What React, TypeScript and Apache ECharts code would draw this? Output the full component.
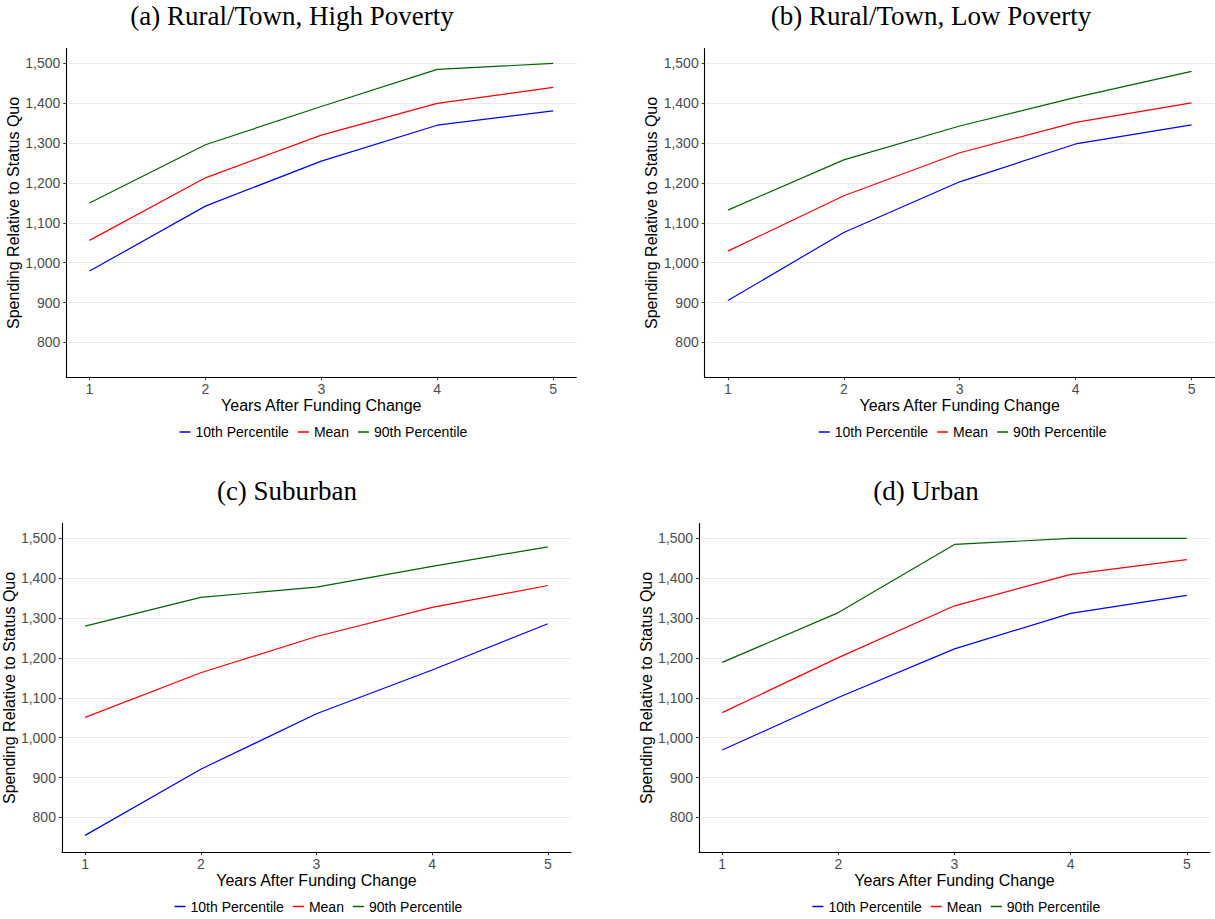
import React, { useEffect, useRef } from "react";
import * as echarts from "echarts";

const years = [1, 2, 3, 4, 5];
const yTicks = [800, 900, 1000, 1100, 1200, 1300, 1400, 1500];
const seriesNames = ["10th Percentile", "Mean", "90th Percentile"];
const seriesColors = ["#0000ff", "#ff0000", "#006400"];

const panelTitles = [
  "(a) Rural/Town, High Poverty",
  "(b) Rural/Town, Low Poverty",
  "(c) Suburban",
  "(d) Urban",
];

// Panel (a) Rural/Town, High Poverty
const aP10 = [979, 1142, 1255, 1345, 1381];
const aMean = [1056, 1213, 1320, 1400, 1440];
const aP90 = [1150, 1296, 1392, 1485, 1500];
// Panel (b) Rural/Town, Low Poverty
const bP10 = [905, 1076, 1203, 1298, 1346];
const bMean = [1029, 1168, 1276, 1352, 1401];
const bP90 = [1132, 1258, 1343, 1415, 1480];
// Panel (c) Suburban
const cP10 = [755, 921, 1060, 1170, 1286];
const cMean = [1051, 1163, 1254, 1327, 1382];
const cP90 = [1280, 1352, 1378, 1430, 1479];
// Panel (d) Urban
const dP10 = [969, 1101, 1223, 1312, 1357];
const dMean = [1063, 1201, 1331, 1410, 1447];
const dP90 = [1189, 1314, 1485, 1500, 1500];

const panelData = [
  [aP10, aMean, aP90],
  [bP10, bMean, bP90],
  [cP10, cMean, cP90],
  [dP10, dMean, dP90],
];

// layout (pixels)
const grids = [
  { left: 66.3, top: 48.5, width: 510, height: 328.8 },
  { left: 704.7, top: 48.5, width: 510, height: 328.8 },
  { left: 61, top: 523.5, width: 510, height: 328.8 },
  { left: 699, top: 523.5, width: 511, height: 328.8 },
];
const titlePos = [
  { x: 292, y: 16 },
  { x: 931, y: 16 },
  { x: 287, y: 491 },
  { x: 926, y: 491 },
];
const legendPos = [
  { left: 179.5, top: 425 },
  { left: 818.7, top: 425 },
  { left: 174.5, top: 899.5 },
  { left: 812.4, top: 899.5 },
];

const SANS = "'Liberation Sans', Arial, Helvetica, sans-serif";
const SERIF = "'Liberation Serif', 'Times New Roman', serif";

export default function App() {
  const ref = useRef<HTMLDivElement | null>(null);

  useEffect(() => {
    if (!ref.current) return;
    const chart = echarts.init(ref.current, undefined, { renderer: "svg" });

    const xAxes = grids.map((_, i) => ({
      type: "value",
      gridIndex: i,
      min: 0.8,
      max: 5.2,
      name: "Years After Funding Change",
      nameLocation: "middle",
      nameGap: 17,
      nameTextStyle: { fontSize: 16, color: "#000", fontFamily: SANS },
      axisLine: { show: true, lineStyle: { color: "#000", width: 1.1 } },
      axisTick: {
        show: true,
        length: 3,
        customValues: years,
        lineStyle: { color: "#333", width: 1 },
      },
      axisLabel: {
        customValues: years,
        color: "#4d4d4d",
        fontSize: 14,
        margin: 5,
        fontFamily: SANS,
      },
      splitLine: { show: false },
    }));

    const yAxes = grids.map((_, i) => ({
      type: "value",
      gridIndex: i,
      min: 712.5,
      max: 1537.5,
      name: "Spending Relative to Status Quo",
      nameLocation: "middle",
      nameGap: 40.5,
      nameTextStyle: { fontSize: 16, color: "#000", fontFamily: SANS },
      axisLine: { show: true, lineStyle: { color: "#000", width: 1.1 } },
      axisTick: {
        show: true,
        length: 3,
        customValues: yTicks,
        lineStyle: { color: "#333", width: 1 },
      },
      axisLabel: {
        customValues: yTicks,
        color: "#4d4d4d",
        fontSize: 14,
        margin: 6,
        fontFamily: SANS,
        formatter: (v: number) => v.toLocaleString("en-US"),
      },
      splitLine: { show: false },
    }));

    const series: any[] = [];
    grids.forEach((_, i) => {
      series.push({
        type: "line",
        name: "grid-" + i,
        xAxisIndex: i,
        yAxisIndex: i,
        data: [],
        z: 0,
        silent: true,
        markLine: {
          z: 0,
          silent: true,
          symbol: ["none", "none"],
          label: { show: false },
          lineStyle: { color: "#ebebeb", type: "solid", width: 1 },
          data: yTicks.map((v) => ({ yAxis: v })),
        },
      });
      panelData[i].forEach((vals, k) => {
        series.push({
          type: "line",
          name: seriesNames[k],
          xAxisIndex: i,
          yAxisIndex: i,
          data: years.map((x, j) => [x, vals[j]]),
          symbol: "none",
          showSymbol: false,
          z: 10,
          color: seriesColors[k],
          lineStyle: { color: seriesColors[k], width: 1.2 },
        });
      });
    });

    const legends = legendPos.map((p) => ({
      data: seriesNames,
      left: p.left,
      top: p.top,
      orient: "horizontal",
      padding: 0,
      icon: "rect",
      itemWidth: 11,
      itemHeight: 1.5,
      itemGap: 9,
      selectedMode: false,
      textStyle: { fontSize: 14, color: "#000", fontFamily: SANS },
    }));

    const graphics = panelTitles.map((t, i) => ({
      type: "text",
      x: titlePos[i].x,
      y: titlePos[i].y,
      silent: true,
      style: {
        text: t,
        fontSize: 27,
        fontFamily: SERIF,
        fill: "#000",
        align: "center",
        verticalAlign: "middle",
      },
    }));

    chart.setOption({
      animation: false,
      backgroundColor: "#ffffff",
      textStyle: { fontFamily: SANS },
      grid: grids.map((g) => ({ ...g, containLabel: false })),
      xAxis: xAxes,
      yAxis: yAxes,
      legend: legends,
      series,
      graphic: graphics,
    });

    return () => {
      chart.dispose();
    };
  }, []);

  return (
    <div
      ref={ref}
      style={{
        position: "absolute",
        left: 0,
        top: 0,
        width: 1215,
        height: 919,
        background: "#fff",
      }}
    />
  );
}
